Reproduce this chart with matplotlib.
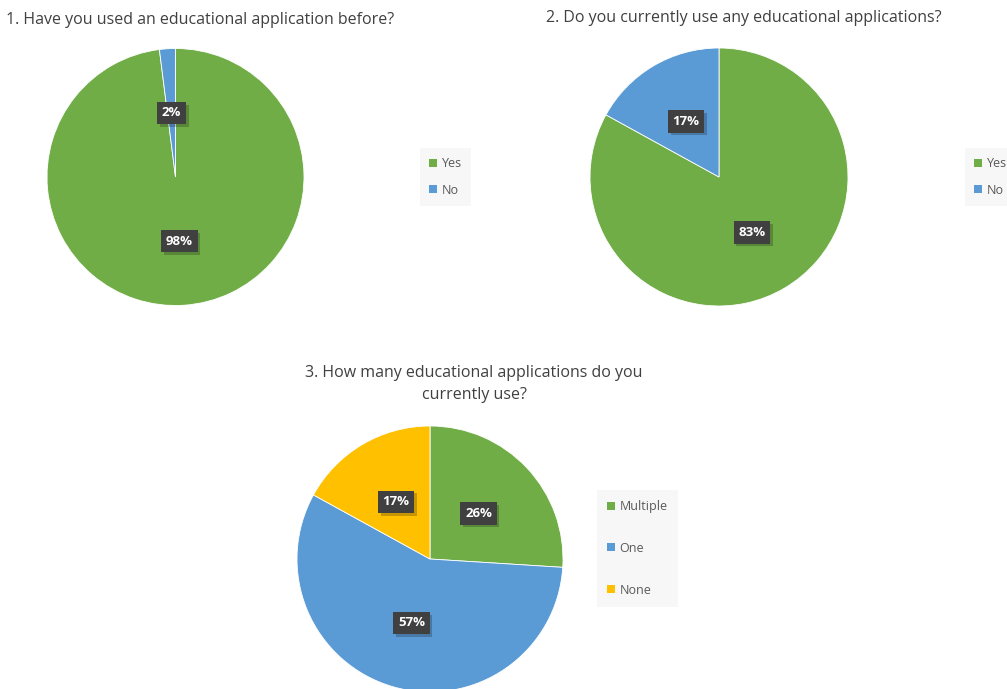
import matplotlib
matplotlib.use("Agg")
import matplotlib.pyplot as plt
from matplotlib.patches import Patch
import matplotlib.patheffects as pe

W, H = 1007, 689
GREEN, BLUE, YELLOW = "#70AD47", "#5B9BD5", "#FFC000"

q1_labels = ["Yes", "No"]
q1_values = [98, 2]
q2_labels = ["Yes", "No"]
q2_values = [83, 17]
q3_labels = ["Multiple", "One", "None"]
q3_values = [26, 57, 17]

titles = ["1. Have you used an educational application before?",
          "2. Do you currently use any educational applications?",
          "3. How many educational applications do you\ncurrently use?"]

plt.rcParams['font.family'] = ['Open Sans', 'DejaVu Sans']
fig = plt.figure(figsize=(W / 100, H / 100), dpi=100)
fig.patch.set_facecolor("white")

def px_axes(cx, cy, r):
    return fig.add_axes([(cx - r) / W, (H - cy - r) / H, 2 * r / W, 2 * r / H])

def draw_pie(ax, values, colors):
    wedges, texts, autotexts = ax.pie(
        values, colors=colors, startangle=90, counterclock=False,
        autopct="%d%%", pctdistance=0.5,
        wedgeprops=dict(edgecolor="white", linewidth=0.6),
        textprops=dict(color="white", fontsize=9.5, fontweight="bold"))
    for t in autotexts:
        t.set_bbox(dict(boxstyle="square,pad=0.35", fc="#404040", ec="none"))
        t.get_bbox_patch().set_path_effects(
            [pe.SimplePatchShadow(offset=(2, -2), shadow_rgbFace="black", alpha=0.22),
             pe.Normal()])
        t.set_zorder(5)
    ax.set_xlim(-1, 1)
    ax.set_ylim(-1, 1)
    ax.set_aspect("equal")
    ax.axis("off")
    return wedges

ax1 = px_axes(175.5, 177, 128.5)
draw_pie(ax1, q1_values, [GREEN, BLUE])
ax2 = px_axes(719, 177, 129)
draw_pie(ax2, q2_values, [GREEN, BLUE])
ax3 = px_axes(430, 559, 133)
draw_pie(ax3, q3_values, [GREEN, BLUE, YELLOW])

tc = "#404040"
fig.text(200 / W, 1 - 20 / H, titles[0], ha="center", va="center", fontsize=11.5, color=tc)
fig.text(744 / W, 1 - 18 / H, titles[1], ha="center", va="center", fontsize=11.5, color=tc)
fig.text(474 / W, 1 - 384 / H, titles[2], ha="center", va="center", fontsize=11.5,
         color=tc, linespacing=1.5)

def legend(labels, colors, x, y, spacing, pad):
    handles = [Patch(facecolor=c, edgecolor="none") for c in colors]
    fig.legend(handles, labels, loc="upper left", bbox_to_anchor=(x / W, 1 - y / H),
               frameon=True, facecolor="#f7f7f7", edgecolor="none", fancybox=False,
               framealpha=1, fontsize=9, handlelength=0.6, handleheight=0.6,
               handletextpad=0.4, labelspacing=spacing, borderpad=pad,
               labelcolor="#595959", borderaxespad=0)

legend(q1_labels, [GREEN, BLUE], 420, 148, 1.05, 0.75)
legend(q2_labels, [GREEN, BLUE], 965, 148, 1.05, 0.75)
legend(q3_labels, [GREEN, BLUE, YELLOW], 597, 490, 2.3, 0.8)

fig.savefig("out.png", dpi=100, facecolor="white")
